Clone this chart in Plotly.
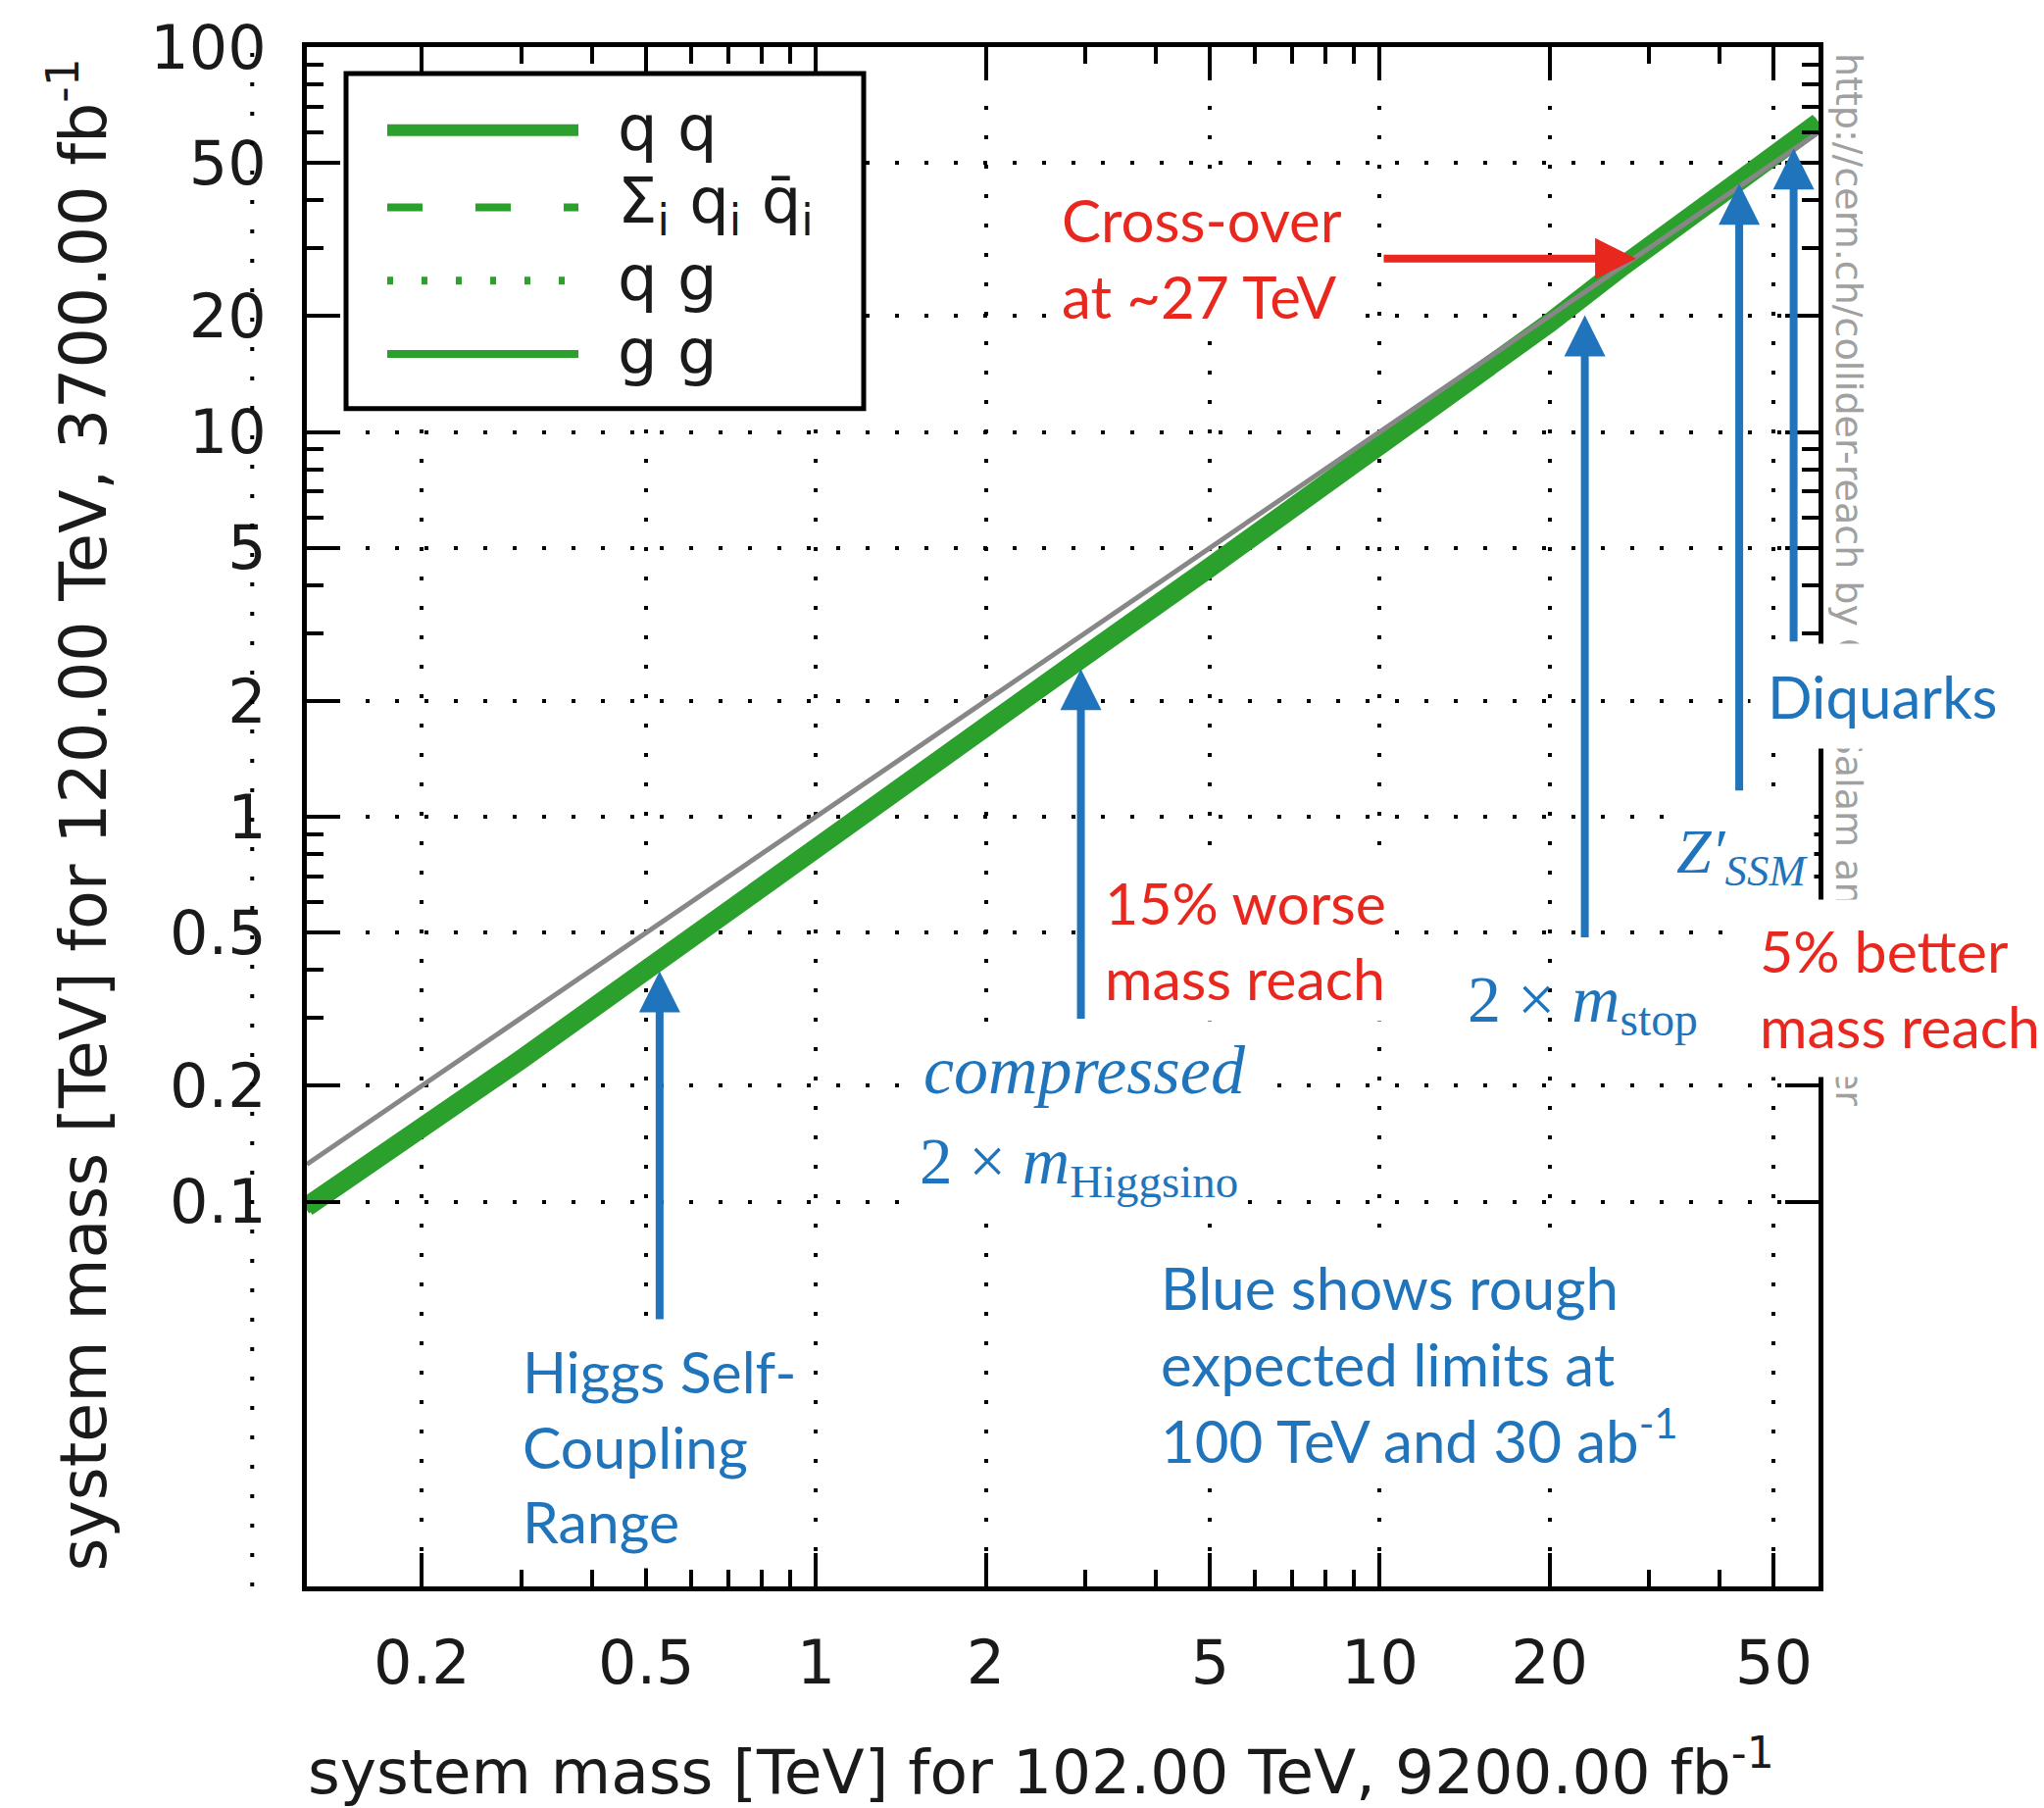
import math
import plotly.graph_objects as go

# ---------------- data ----------------
mass_102 = [0.125, 0.2, 0.3, 0.5, 0.7, 1, 1.5, 2, 3, 5, 7, 10, 15, 20, 27, 35, 45, 60]
reach_qq = [0.097, 0.154, 0.234, 0.40, 0.572, 0.84, 1.28, 1.72, 2.62, 4.45, 6.33, 9.2, 14.1, 19.2, 27.0, 35.7, 46.8, 63.6]
reach_qqbar = [0.096, 0.152, 0.232, 0.396, 0.566, 0.832, 1.267, 1.70, 2.59, 4.41, 6.27, 9.11, 14.0, 19.0, 26.7, 35.3, 46.3, 63.0]
reach_qg = [0.099, 0.157, 0.239, 0.408, 0.583, 0.857, 1.306, 1.75, 2.67, 4.54, 6.46, 9.38, 14.4, 19.6, 27.5, 36.4, 47.7, 64.9]
reach_gg = [0.095, 0.150, 0.228, 0.390, 0.558, 0.819, 1.248, 1.68, 2.55, 4.34, 6.17, 8.97, 13.7, 18.7, 26.3, 34.8, 45.6, 62.0]
diag_x = [0.125, 60]
diag_y = [0.125, 60]

x_tick_vals = [0.2, 0.5, 1, 2, 5, 10, 20, 50]
x_tick_text = ["0.2", "0.5", "1", "2", "5", "10", "20", "50"]
y_tick_vals = [0.1, 0.2, 0.5, 1, 2, 5, 10, 20, 50, 100]
y_tick_text = ["0.1", "0.2", "0.5", "1", "2", "5", "10", "20", "50", "100"]
x_minor = [0.3, 0.4, 0.6, 0.7, 0.8, 0.9, 3, 4, 6, 7, 8, 9, 30, 40]
y_minor = [0.3, 0.4, 0.6, 0.7, 0.8, 0.9, 3, 4, 6, 7, 8, 9, 30, 40, 60, 70, 80, 90]
x_range = [0.125, 60]
y_range = [0.01, 100]
stray_grid_x = 0.1

# blue limit arrows: mass at 102 TeV, arrow tip and tail at 120 TeV
limit_names = ["Higgs self-coupling", "compressed Higgsino", "stop", "Z'SSM", "Diquarks"]
limit_mass = [0.528, 2.95, 23.1, 43.4, 54.2]
limit_tip = [0.397, 2.42, 20.1, 44.2, 54.6]
limit_tail = [0.049, 0.296, 0.482, 1.16, 2.83]

# red cross-over arrow
crossover_tail_x = 10.1
crossover_tip_x = 28.5
crossover_y = 28.2

# ---------------- layout helpers ----------------
W, H = 2085, 1844
L, R, T, B = 313, 1855, 43, 1618


def px(xf):
    return (xf - L) / (R - L)


def py(yf):
    return (B - yf) / (B - T)


GREEN = "#2ca02c"
BLUE = "#1f74bb"
RED = "#e8281e"
AXFONT = "DejaVu Sans"
SANS = "Lato"
SERIF = "Liberation Serif"

fig = go.Figure()

fig.add_trace(go.Scatter(x=mass_102, y=reach_gg, mode="lines", name="g g",
                         line=dict(color=GREEN, width=8), showlegend=False))
fig.add_trace(go.Scatter(x=mass_102, y=reach_qg, mode="lines", name="q g",
                         line=dict(color=GREEN, width=8, dash="6px,29px"), showlegend=False))
fig.add_trace(go.Scatter(x=mass_102, y=reach_qqbar, mode="lines", name="sum q qbar",
                         line=dict(color=GREEN, width=8, dash="36px,54px"), showlegend=False))
fig.add_trace(go.Scatter(x=mass_102, y=reach_qq, mode="lines", name="q q",
                         line=dict(color=GREEN, width=20), showlegend=False))
fig.add_trace(go.Scatter(x=diag_x, y=diag_y, mode="lines", name="equal reach",
                         line=dict(color="#878787", width=5), showlegend=False))

axis_common = dict(
    type="log", ticks="inside", ticklen=34, tickwidth=4, tickcolor="black",
    showline=True, linewidth=5, linecolor="black", mirror="ticks",
    showgrid=True, gridcolor="black", gridwidth=4, griddash="4px,26px",
    zeroline=False, tickfont=dict(family=AXFONT, size=62, color="#1a1a1a"),
)

fig.update_xaxes(
    range=[math.log10(x_range[0]), math.log10(x_range[1])],
    tickmode="array", tickvals=x_tick_vals, ticktext=x_tick_text,
    ticklabelstandoff=20,
    minor=dict(tickvals=x_minor, ticks="inside", ticklen=17, tickwidth=4,
               tickcolor="black", showgrid=False),
    **axis_common,
)
fig.update_yaxes(
    range=[math.log10(y_range[0]), math.log10(y_range[1])],
    tickmode="array", tickvals=y_tick_vals, ticktext=y_tick_text,
    ticklabelstandoff=24,
    minor=dict(tickvals=y_minor, ticks="inside", ticklen=17, tickwidth=4,
               tickcolor="black", showgrid=False),
    **axis_common,
)

span = math.log10(x_range[1]) - math.log10(x_range[0])
stray_px = (math.log10(stray_grid_x) - math.log10(x_range[0])) / span

shapes = [
    # stray grid column at 0.1, outside the frame
    dict(type="line", xref="paper", yref="paper", x0=stray_px, x1=stray_px, y0=0, y1=1,
         line=dict(color="black", width=4, dash="4px,26px")),
    # legend box
    dict(type="rect", xref="paper", yref="paper", x0=px(353), x1=px(881), y0=py(70), y1=py(413),
         line=dict(color="black", width=5), fillcolor="white", layer="above"),
    dict(type="line", xref="paper", yref="paper", x0=px(395), x1=px(590), y0=py(128), y1=py(128),
         line=dict(color=GREEN, width=12)),
    dict(type="line", xref="paper", yref="paper", x0=px(395), x1=px(590), y0=py(207), y1=py(207),
         line=dict(color=GREEN, width=8, dash="36px,54px")),
    dict(type="line", xref="paper", yref="paper", x0=px(395), x1=px(590), y0=py(282), y1=py(282),
         line=dict(color=GREEN, width=8, dash="6px,29px")),
    dict(type="line", xref="paper", yref="paper", x0=px(395), x1=px(590), y0=py(357), y1=py(357),
         line=dict(color=GREEN, width=8)),
]

ann = []
# URL (drawn first so later white boxes cover parts of it)
ann.append(dict(text="http://cern.ch/collider-reach by G. P. Salam and A. Weiler",
                xref="paper", yref="paper", x=px(1886), y=py(47), xanchor="center", yanchor="top",
                textangle=90, showarrow=False, font=dict(family=AXFONT, size=38, color="#a0a0a0")))


def label(text, xf, yf, color, family=SANS, size=59, bg=None, pad=6, xanchor="left", align="left"):
    d = dict(text=text, xref="paper", yref="paper", x=px(xf), y=py(yf), xanchor=xanchor,
             yanchor="middle", align=align, showarrow=False,
             font=dict(family=family, size=size, color=color), borderpad=pad)
    if bg:
        d["bgcolor"] = bg
    ann.append(d)


label("Cross-over<br>at ~27 TeV", 1074, 259, RED, size=60, bg="white", pad=8)
label("15% worse<br>mass reach", 1118, 957, RED, bg="white", pad=8)
label("5% better<br>mass reach", 1778, 1006, RED, bg="white", pad=16)
label("Diquarks", 1785, 707, BLUE, size=60, bg="white", pad=17)
label("<i>Z′</i><sub><i>SSM</i></sub>", 1703, 871, BLUE, family=SERIF, size=64, bg="white", pad=6)
label("2 × <i>m</i><sub>stop</sub>", 1490, 1022, BLUE, family=SERIF, size=68)
label("<i>compressed</i>", 935, 1090, BLUE, family=SERIF, size=70, bg="white", pad=6)
label("2 × <i>m</i><sub>Higgsino</sub>", 931, 1188, BLUE, family=SERIF, size=67, bg="white", pad=6)
label("Higgs Self-<br>Coupling<br>Range", 520, 1475, BLUE, bg="white", pad=12)
label("Blue shows rough<br>expected limits at<br>100 TeV and 30 ab<sup>-1</sup>", 1171, 1390, BLUE,
      size=60, bg="white", pad=12)

# blue limit arrows
for xm, tip, tail in zip(limit_mass, limit_tip, limit_tail):
    ann.append(dict(text="", xref="x", yref="y", axref="x", ayref="y",
                    x=math.log10(xm), y=math.log10(tip), ax=math.log10(xm), ay=math.log10(tail),
                    showarrow=True, arrowhead=2, arrowwidth=8, arrowsize=1.05,
                    arrowcolor=BLUE, standoff=0))
# red cross-over arrow
ann.append(dict(text="", xref="x", yref="y", axref="x", ayref="y",
                x=math.log10(crossover_tip_x), y=math.log10(crossover_y),
                ax=math.log10(crossover_tail_x), ay=math.log10(crossover_y),
                showarrow=True, arrowhead=2, arrowwidth=8, arrowsize=1.05,
                arrowcolor=RED, standoff=0))

# legend texts
legend_texts = ["q q", "Σ<sub>i</sub> q<sub>i</sub> q\u0304<sub>i</sub>", "q g", "g g"]
for t, yf in zip(legend_texts, [126, 205, 280, 355]):
    ann.append(dict(text=t, xref="paper", yref="paper", x=px(628), y=py(yf), xanchor="left",
                    yanchor="middle", showarrow=False,
                    font=dict(family=AXFONT, size=64, color="#1a1a1a")))

# axis titles
ann.append(dict(text="system mass [TeV] for 102.00 TeV, 9200.00 fb<sup>-1</sup>",
                xref="paper", yref="paper", x=px(1062), y=py(1804), xanchor="center", yanchor="middle",
                showarrow=False, font=dict(family=AXFONT, size=63, color="#1a1a1a")))
ann.append(dict(text="system mass [TeV] for 120.00 TeV, 3700.00 fb<sup>-1</sup>",
                xref="paper", yref="paper", x=px(80), y=py(829), xanchor="center", yanchor="middle",
                textangle=-90, showarrow=False, font=dict(family=AXFONT, size=65, color="#1a1a1a")))

fig.update_layout(
    width=W, height=H, autosize=False,
    margin=dict(l=L, r=W - R, t=T, b=H - B),
    paper_bgcolor="white", plot_bgcolor="white",
    showlegend=False, shapes=shapes, annotations=ann,
)

fig.write_html("out.html")
